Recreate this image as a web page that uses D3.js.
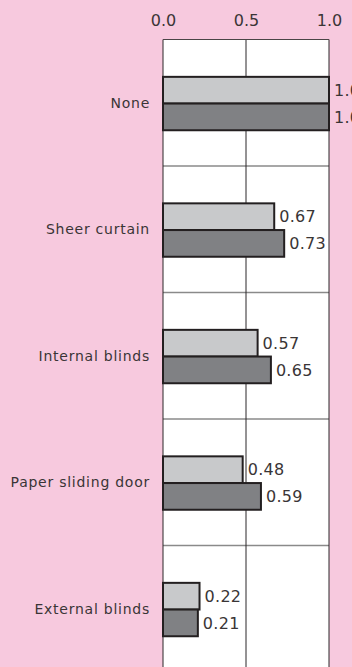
<!DOCTYPE html>
<html>
<head>
<meta charset="utf-8">
<script src="https://cdn.jsdelivr.net/npm/d3@7"></script>
<style>
  html, body { margin: 0; padding: 0; background: #f7c9de; }
  svg { display: block; }
  text { font-family: "DejaVu Sans", sans-serif; font-weight: 400; fill: #3a3536; }
</style>
</head>
<body>
<svg id="chart" width="352" height="667"></svg>
<script>
// Shading categories and relative values for the two series
const categories = ["None", "Sheer curtain", "Internal blinds", "Paper sliding door", "External blinds"];
const seriesLight = [1.0, 0.67, 0.57, 0.48, 0.22];
const seriesDark = [1.0, 0.73, 0.65, 0.59, 0.21];
const tickValues = [0, 0.5, 1.0];

const svg = d3.select("#chart");
const margin = { left: 163, right: 23, top: 39.5 };
const plotW = 352 - margin.left - margin.right;
const bandH = 126.5;
const plotH = bandH * categories.length;

const x = d3.scaleLinear().domain([0, 1]).range([margin.left, margin.left + plotW]);
const y = d3.scaleBand().domain(categories).range([margin.top, margin.top + plotH]).padding(0);

// plot background
svg.append("rect")
  .attr("x", x(0)).attr("y", margin.top)
  .attr("width", x(1) - x(0)).attr("height", plotH)
  .attr("fill", "#ffffff");

// horizontal separators between categories
svg.append("g").selectAll("line")
  .data(categories.slice(1))
  .join("line")
  .attr("x1", x(0)).attr("x2", x(1))
  .attr("y1", d => y(d)).attr("y2", d => y(d))
  .attr("stroke", "#8a8a8a").attr("stroke-width", 1.5);

// vertical grid lines
svg.append("g").selectAll("line")
  .data(tickValues)
  .join("line")
  .attr("x1", d => x(d)).attr("x2", d => x(d))
  .attr("y1", margin.top).attr("y2", margin.top + plotH)
  .attr("stroke", "#2b2728").attr("stroke-width", 1);

// top edge of plot
svg.append("line")
  .attr("x1", x(0)).attr("x2", x(1))
  .attr("y1", margin.top).attr("y2", margin.top)
  .attr("stroke", "#4a4546").attr("stroke-width", 1);

// top axis labels
const axis = d3.axisTop(x).tickValues(tickValues).tickSize(0).tickPadding(14).tickFormat(d3.format(".1f"));
const gAxis = svg.append("g").attr("transform", `translate(0,${margin.top})`).call(axis);
gAxis.select(".domain").remove();
gAxis.selectAll("text")
  .attr("font-size", 16)
  .attr("font-family", "\"DejaVu Sans\", sans-serif")
  .attr("fill", "#3a3536");

// category labels
svg.append("g").selectAll("text")
  .data(categories)
  .join("text")
  .attr("x", 150)
  .attr("y", d => y(d) + y.bandwidth() / 2)
  .attr("dy", "0.35em")
  .attr("text-anchor", "end")
  .attr("font-size", 14)
  .attr("letter-spacing", 0.75)
  .text(d => d);

// bars
const barH = 26.7;
const fmt = d3.format(".2f");
const series = [
  { values: seriesLight, fill: "#c8c9cb", offset: -barH },
  { values: seriesDark, fill: "#808184", offset: 0 }
];

series.forEach(s => {
  const g = svg.append("g");
  g.selectAll("rect")
    .data(categories)
    .join("rect")
    .attr("x", x(0))
    .attr("y", (d, i) => y(d) + y.bandwidth() / 2 + s.offset + 0.8)
    .attr("width", (d, i) => x(s.values[i]) - x(0))
    .attr("height", barH)
    .attr("fill", s.fill)
    .attr("stroke", "#231f20")
    .attr("stroke-width", 2);
  g.selectAll("text")
    .data(categories)
    .join("text")
    .attr("x", (d, i) => x(s.values[i]) + 5)
    .attr("y", (d, i) => y(d) + y.bandwidth() / 2 + s.offset + 0.8 + barH / 2)
    .attr("dy", "0.36em")
    .attr("font-size", 16)
    .attr("letter-spacing", 0.3)
    .text((d, i) => fmt(s.values[i]));
});
</script>
</body>
</html>
